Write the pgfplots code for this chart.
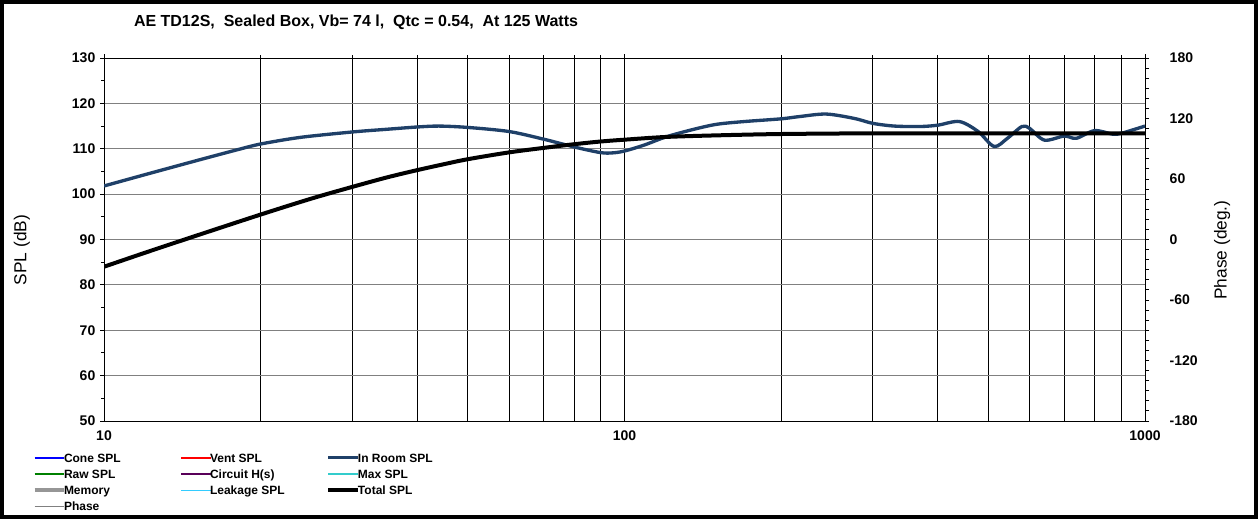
\documentclass[border=0pt]{standalone}
\usepackage{fontspec}
\setmainfont{Liberation Sans}
\usepackage{pgfplots}
\pgfplotsset{compat=1.18}
\definecolor{roomblue}{RGB}{31,64,104}
\definecolor{maxcyan}{RGB}{51,204,204}
\definecolor{leakblue}{RGB}{51,204,255}
\definecolor{memgray}{RGB}{150,150,150}
\definecolor{gridgray}{RGB}{128,128,128}
\newcommand{\lt}[1]{\makebox[84pt][l]{\hspace*{-2.25pt}\rule[-2.9pt]{0pt}{11.5pt}#1}}
\begin{document}
\begin{tikzpicture}
\useasboundingbox (-78pt,-73.5pt) rectangle (865.5pt,315.75pt);
\fill[white] (-78pt,-73.5pt) rectangle (865.5pt,315.75pt);
\draw[line width=3pt] (-76.5pt,-72pt) rectangle (864pt,314.25pt);
\begin{axis}[
  at={(0pt,0pt)}, anchor=south west,
  scale only axis, width=780.75pt, height=272.25pt,
  xmode=log, xmin=10, xmax=1000, ymin=50, ymax=130,
  ytick={50,60,...,130}, minor y tick num=1,
  xtick={10,100,1000}, xticklabels={10,100,1000},
  minor xtick={20,30,40,50,60,70,80,90,200,300,400,500,600,700,800,900},
  xmajorgrids, xminorgrids, ymajorgrids,
  major x grid style={black, line width=0.75pt},
  minor x grid style={black, line width=0.75pt},
  major y grid style={gridgray, line width=0.75pt},
  axis line style={black, line width=0.75pt},
  tick style={black, line width=0.75pt},
  tick align=outside, major tick length=3pt, minor tick length=2.25pt,
  xtick pos=right, xticklabel pos=left, ytick pos=left,
  /pgf/number format/assume math mode=true,
  ticklabel style={font=\bfseries\fontsize{10.5}{12}\selectfont},
  xticklabel style={yshift=-1pt},
  ylabel={SPL (dB)},
  ylabel style={at={(axis description cs:-0.0788,0.471)}, anchor=center, font=\fontsize{13}{15}\selectfont},
  title={AE TD12S,\ \ Sealed Box, Vb= 74 l,\ \ Qtc = 0.54,\ \ At 125 Watts},
  title style={at={(axis description cs:0.2421,1.0771)}, anchor=center, font=\bfseries\fontsize{12}{14}\selectfont},
  legend columns=3,
  legend cell align=left,
  legend image code/.code={\draw[#1] (0pt,0pt) -- (22pt,0pt);},
  legend style={at={(axis description cs:-0.0682,-0.079)}, anchor=north west, draw=none, fill=none,
    inner sep=0pt, outer sep=0pt, row sep=0pt, font=\bfseries\fontsize{9}{11}\selectfont,
    nodes={inner sep=1pt}},
]
\addlegendimage{blue, line width=1.5pt}
\addlegendentry{\lt{Cone SPL}}
\addlegendimage{red, line width=1.5pt}
\addlegendentry{\lt{Vent SPL}}
\addplot[roomblue, line width=2.5pt, smooth, tension=0.5] coordinates {
(10,101.8) (12.26,104.6) (15.3,107.6) (18.2,109.9) (20,111.05) (23.8,112.5) (30,113.7) (35,114.3) (40,114.8) (44,115.0) (50,114.7) (60,113.8) (70,112.1) (80,110.4) (90,109.15) (95,109.1) (100,109.5) (109,110.8) (120.4,112.65) (136,114.3) (150.5,115.4) (170,116.0) (200,116.6) (217,117.1) (244,117.65) (276,116.7) (300,115.6) (330,115.0) (370,114.9) (400,115.2) (440,116.0) (478,113.8) (513,110.5) (544,112.3) (580,114.9) (600,114.5) (641,111.9) (700,112.8) (738,112.3) (800,114.0) (868,113.2) (900,113.4) (950,114.2) (1000,115.0)
};
\addlegendentry{\lt{In Room SPL}}
\addlegendimage{green!50!black, line width=1.5pt}
\addlegendentry{\lt{Raw SPL}}
\addlegendimage{violet!70!black, line width=1.5pt}
\addlegendentry{\lt{Circuit H(s)}}
\addlegendimage{maxcyan, line width=1.5pt}
\addlegendentry{\lt{Max SPL}}
\addlegendimage{memgray, line width=2.5pt}
\addlegendentry{\lt{Memory}}
\addlegendimage{leakblue, line width=0.6pt}
\addlegendentry{\lt{Leakage SPL}}
\addplot[black, line width=3pt, smooth, tension=0.5] coordinates {
(10,84.0) (12,87.1) (15,90.8) (20,95.5) (25,99.0) (30,101.6) (35,103.7) (40,105.3) (45,106.6) (50,107.7) (60,109.2) (70,110.2) (80,111.0) (90,111.6) (100,112.0) (120,112.6) (150,112.95) (200,113.25) (300,113.4) (500,113.4) (1000,113.4)
};
\addlegendentry{\lt{Total SPL}}
\addlegendimage{gray, line width=0.6pt}
\addlegendentry{\lt{Phase}}
\end{axis}
\begin{axis}[
  at={(0pt,0pt)}, anchor=south west,
  scale only axis, width=780.75pt, height=272.25pt,
  xmode=log, xmin=10, xmax=1000, ymin=-180, ymax=180,
  axis x line=none, axis y line*=right,
  ytick={-180,-120,...,180}, minor y tick num=5,
  axis line style={black, line width=0.75pt},
  tick style={black, line width=0.75pt},
  tick align=outside, major tick length=3pt, minor tick length=3pt,
  /pgf/number format/assume math mode=true,
  ticklabel style={font=\bfseries\fontsize{10.5}{12}\selectfont},
  yticklabel style={xshift=12pt},
  ylabel={Phase (deg.)},
  ylabel style={at={(axis description cs:1.074,0.471)}, anchor=center, font=\fontsize{13}{15}\selectfont},
]
\end{axis}
\end{tikzpicture}
\end{document}
